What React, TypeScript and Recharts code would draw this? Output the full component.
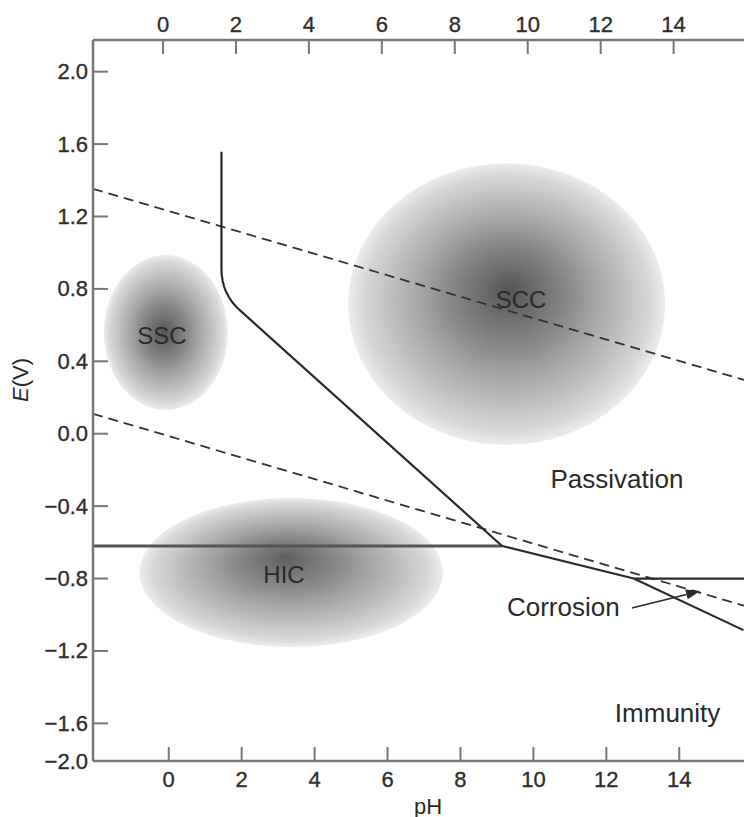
import React from "react";
import {
  ComposedChart,
  Line,
  Scatter,
  XAxis,
  YAxis,
  ReferenceArea,
  ReferenceLine,
} from "recharts";

const FONT = "'Liberation Sans', Arial, Helvetica, sans-serif";
const INK = "#2a2a2a";
const AXIS = "#777777";

// pH ticks (top and bottom axes), potential ticks (left axis)
const phTicks = [0, 2, 4, 6, 8, 10, 12, 14];
const eTicks = [-1.808, -1.6, -1.2, -0.8, -0.4, 0, 0.4, 0.8, 1.2, 1.6, 2.0];
const eTickLabels = ["−2.0", "−1.6", "−1.2", "−0.8", "−0.4", "0.0", "0.4", "0.8", "1.2", "1.6", "2.0"];
// the top scale is printed slightly offset from the bottom one
const topAxisRows = phTicks.map((v) => ({ ph: v }));

// water stability lines (dashed)
const oxygenLine = [
  { ph: -2.077, E: 1.353 },
  { ph: 15.775, E: 0.297 },
];
const hydrogenLine = [
  { ph: -2.077, E: 0.11 },
  { ph: 15.775, E: -0.95 },
];

// solid boundaries
const immunityEdge = [
  { ph: -2.077, E: -0.62 },
  { ph: 9.14, E: -0.62 },
];
const passiveEdge = [
  { ph: 1.446, E: 1.558 },
  { ph: 1.446, E: 0.91 },
  { ph: 1.454, E: 0.876 },
  { ph: 1.478, E: 0.844 },
  { ph: 1.518, E: 0.813 },
  { ph: 1.573, E: 0.784 },
  { ph: 1.645, E: 0.756 },
  { ph: 1.733, E: 0.729 },
  { ph: 1.837, E: 0.704 },
  { ph: 1.956, E: 0.681 },
  { ph: 9.14, E: -0.62 },
  { ph: 12.75, E: -0.8 },
  { ph: 15.76, E: -1.085 },
];
const rightEdge = [
  { ph: 12.75, E: -0.8 },
  { ph: 15.775, E: -0.8 },
];

// shaded regions: bounding boxes in pH / E
const sscBox = { ph1: -1.78, ph2: 1.62, e1: 0.131, e2: 0.987 };
const sccBox = { ph1: 4.92, ph2: 13.61, e1: -0.062, e2: 1.494 };
const hicBox = { ph1: -0.8, ph2: 7.52, e1: -1.178, e2: -0.355 };

// text labels
const regionLabels = [
  { ph: -0.19, E: 0.54, text: "SSC" },
  { ph: 9.66, E: 0.739, text: "SCC" },
  { ph: 3.16, E: -0.775, text: "HIC" },
];
const zoneLabels = [
  { ph: 12.29, E: -0.25, text: "Passivation" },
  { ph: 10.82, E: -0.956, text: "Corrosion" },
  { ph: 13.68, E: -1.545, text: "Immunity" },
];
const corrosionArrow = [
  { x: 12.7, y: -0.963 },
  { x: 14.57, y: -0.869 },
];

const tickText = {
  fontSize: 22,
  fill: "#2e2e2e",
  stroke: "#2e2e2e",
  strokeWidth: 0.35,
  fontFamily: FONT,
};

const BottomTick = (props: any) => {
  const { x, y, payload } = props;
  return (
    <g>
      <line x1={x} y1={y} x2={x} y2={y - 14} stroke={AXIS} strokeWidth={2} />
      <text x={x} y={y + 18} textAnchor="middle" dominantBaseline="central" {...tickText}>
        {payload.value}
      </text>
    </g>
  );
};

const TopTick = (props: any) => {
  const { x, y, payload } = props;
  return (
    <g>
      <line x1={x} y1={y} x2={x} y2={y + 14} stroke={AXIS} strokeWidth={2} />
      <text x={x} y={y - 16} textAnchor="middle" dominantBaseline="central" {...tickText}>
        {payload.value}
      </text>
    </g>
  );
};

const LeftTick = (props: any) => {
  const { x, y, payload } = props;
  const i = eTicks.indexOf(payload.value);
  return (
    <g>
      <line x1={x} y1={y} x2={x + 15} y2={y} stroke={AXIS} strokeWidth={2} />
      <text x={x - 5} y={y} textAnchor="end" dominantBaseline="central" {...tickText}>
        {i >= 0 ? eTickLabels[i] : payload.value}
      </text>
    </g>
  );
};

const makeBlob = (id: string, fx: string, fy: string, stops: [number, string][]) => (props: any) => {
  const { x, y, width, height } = props;
  return (
    <g>
      <defs>
        <radialGradient id={id} cx="50%" cy="50%" r="50%" fx={fx} fy={fy}>
          {stops.map(([o, c]) => (
            <stop key={o} offset={`${o}%`} stopColor={c} />
          ))}
        </radialGradient>
      </defs>
      <ellipse cx={x + width / 2} cy={y + height / 2} rx={width / 2} ry={height / 2} fill={`url(#${id})`} />
    </g>
  );
};

const blobStops: [number, string][] = [
  [0, "#555555"],
  [30, "#7e7e7e"],
  [65, "#b3b3b3"],
  [90, "#d6d6d6"],
  [100, "#ededed"],
];
const hicStops: [number, string][] = [
  [0, "#606060"],
  [30, "#858585"],
  [65, "#b5b5b5"],
  [90, "#d6d6d6"],
  [100, "#ededed"],
];

const SscShape = makeBlob("g-ssc", "48%", "50%", blobStops);
const SccShape = makeBlob("g-scc", "51%", "45%", blobStops);
const HicShape = makeBlob("g-hic", "48%", "40%", hicStops);

const ArrowShape = (props: any) => {
  const { x1, y1, x2, y2 } = props;
  const a = Math.atan2(y2 - y1, x2 - x1);
  const len = 14;
  const half = 5;
  const bx = x2 - len * Math.cos(a);
  const by = y2 - len * Math.sin(a);
  const pts = [
    [x2, y2],
    [bx + half * Math.sin(a), by - half * Math.cos(a)],
    [bx - half * Math.sin(a), by + half * Math.cos(a)],
  ]
    .map((p) => p.join(","))
    .join(" ");
  return (
    <g>
      <line x1={x1} y1={y1} x2={bx} y2={by} stroke={INK} strokeWidth={1.6} />
      <polygon points={pts} fill={INK} />
    </g>
  );
};

const makeText = (size: number) => (props: any) => (
  <text
    x={props.cx}
    y={props.cy}
    textAnchor="middle"
    dominantBaseline="central"
    fontSize={size}
    fill={INK}
    fontFamily={FONT}
  >
    {props.payload.text}
  </text>
);

const ETitle = () => {
  const cx = 20;
  const cy = 380;
  return (
    <text
      x={cx}
      y={cy}
      transform={`rotate(-90 ${cx} ${cy})`}
      textAnchor="middle"
      dominantBaseline="central"
      fontSize={22}
      fill={INK}
      fontFamily={FONT}
    >
      <tspan fontStyle="italic">E</tspan>(V)
    </text>
  );
};

const PhTitle = (props: any) => {
  const vb = props.viewBox || { x: 93, y: 761 };
  return (
    <text
      x={vb.x + 335}
      y={vb.y + 45}
      textAnchor="middle"
      dominantBaseline="central"
      fontSize={22}
      fill={INK}
      fontFamily={FONT}
    >
      pH
    </text>
  );
};

export default function App() {
  return (
    <div style={{ position: "absolute", left: 0, top: 0, background: "#fff" }}>
      <ComposedChart width={744} height={817} data={topAxisRows} margin={{ top: 0, right: 0, bottom: 0, left: 0 }}>
        <XAxis
          xAxisId="b"
          dataKey="ph"
          type="number"
          domain={[-2.077, 15.775]}
          allowDataOverflow
          ticks={phTicks}
          orientation="bottom"
          height={56}
          tickSize={0}
          tickMargin={0}
          tickLine={false}
          tick={<BottomTick />}
          axisLine={{ stroke: AXIS, strokeWidth: 2.5 }}
          label={<PhTitle />}
        />
        <XAxis
          xAxisId="t"
          dataKey="ph"
          type="number"
          domain={[-1.92, 15.93]}
          allowDataOverflow
          ticks={phTicks}
          orientation="top"
          height={40}
          tickSize={0}
          tickMargin={0}
          tickLine={false}
          tick={<TopTick />}
          axisLine={{ stroke: AXIS, strokeWidth: 2.5 }}
        />
        <YAxis
          yAxisId="e"
          dataKey="E"
          type="number"
          domain={[-1.808, 2.175]}
          allowDataOverflow
          ticks={eTicks}
          width={93}
          tickSize={0}
          tickMargin={0}
          tickLine={false}
          tick={<LeftTick />}
          axisLine={{ stroke: AXIS, strokeWidth: 2.5 }}
          label={<ETitle />}
        />

        <ReferenceArea xAxisId="b" yAxisId="e" x1={sscBox.ph1} x2={sscBox.ph2} y1={sscBox.e1} y2={sscBox.e2} shape={SscShape} ifOverflow="visible" />
        <ReferenceArea xAxisId="b" yAxisId="e" x1={sccBox.ph1} x2={sccBox.ph2} y1={sccBox.e1} y2={sccBox.e2} shape={SccShape} ifOverflow="visible" />
        <ReferenceArea xAxisId="b" yAxisId="e" x1={hicBox.ph1} x2={hicBox.ph2} y1={hicBox.e1} y2={hicBox.e2} shape={HicShape} ifOverflow="visible" />

        <Line xAxisId="b" yAxisId="e" data={oxygenLine} dataKey="E" type="linear" stroke="#333" strokeWidth={1.8} strokeDasharray="10 6" dot={false} activeDot={false} isAnimationActive={false} />
        <Line xAxisId="b" yAxisId="e" data={hydrogenLine} dataKey="E" type="linear" stroke="#333" strokeWidth={1.8} strokeDasharray="10 6" dot={false} activeDot={false} isAnimationActive={false} />
        <Line xAxisId="b" yAxisId="e" data={immunityEdge} dataKey="E" type="linear" stroke="#555" strokeWidth={3} dot={false} activeDot={false} isAnimationActive={false} />
        <Line xAxisId="b" yAxisId="e" data={passiveEdge} dataKey="E" type="linear" stroke={INK} strokeWidth={2.2} strokeLinejoin="round" dot={false} activeDot={false} isAnimationActive={false} />
        <Line xAxisId="b" yAxisId="e" data={rightEdge} dataKey="E" type="linear" stroke={INK} strokeWidth={2.2} dot={false} activeDot={false} isAnimationActive={false} />

        <ReferenceLine xAxisId="b" yAxisId="e" segment={corrosionArrow} shape={ArrowShape} ifOverflow="visible" />

        <Scatter xAxisId="b" yAxisId="e" data={regionLabels} dataKey="E" shape={makeText(24)} isAnimationActive={false} />
        <Scatter xAxisId="b" yAxisId="e" data={zoneLabels} dataKey="E" shape={makeText(26)} isAnimationActive={false} />
      </ComposedChart>
    </div>
  );
}
